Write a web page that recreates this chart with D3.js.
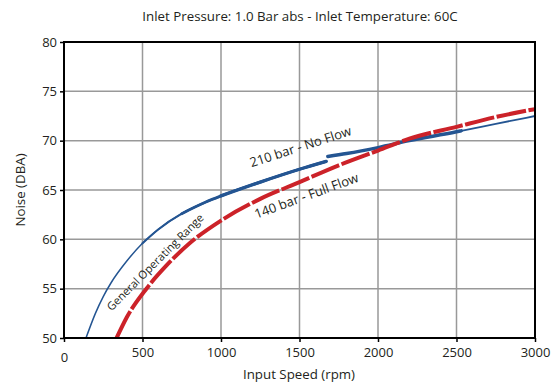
<!DOCTYPE html>
<html><head><meta charset="utf-8">
<script src="https://cdn.jsdelivr.net/npm/d3@7"></script>
<style>body{margin:0;background:#fff}svg text{font-family:"Open Sans","Noto Sans",sans-serif;fill:#231f20}</style>
</head><body><svg id="c" width="553" height="385"></svg>
<script>
const title = "Inlet Pressure: 1.0 Bar abs - Inlet Temperature: 60C";
const xTicks = [0, 500, 1000, 1500, 2000, 2500, 3000];
const yTicks = [50, 55, 60, 65, 70, 75, 80];
// 210 bar - No Flow (blue)
const blueRpm   = [140, 200, 250, 300, 400, 500, 600, 750, 900, 1000, 1250, 1500, 1670, 1680, 1800, 2000, 2200, 2500, 2530, 2750, 3000];
const blueNoise = [50, 52.5, 54.2, 55.6, 57.8, 59.6, 61.0, 62.6, 63.75, 64.4, 65.8, 67.1, 67.9, 68.4, 68.7, 69.3, 70.0, 70.9, 71.0, 71.7, 72.5];
// 140 bar - Full Flow (red)
const redRpm   = [335, 400, 525, 650, 800, 1000, 1250, 1500, 1750, 2000, 2200, 2500, 2750, 3000];
const redNoise = [50, 52.1, 55.0, 57.3, 59.6, 61.9, 64.1, 65.8, 67.5, 69.0, 70.2, 71.4, 72.4, 73.2];

const svg = d3.select("#c");
const x = d3.scaleLinear().domain([0, 3000]).range([64, 535]);
const y = d3.scaleLinear().domain([50, 80]).range([338, 42]);

svg.append("text").attr("x", 300).attr("y", 21).attr("text-anchor", "middle")
  .attr("font-size", 13.3).text(title);

// grid
svg.append("g").selectAll("line").data(xTicks.slice(1, -1)).join("line")
  .attr("x1", d => x(d)).attr("x2", d => x(d)).attr("y1", y(80)).attr("y2", y(50))
  .attr("stroke", "#999").attr("stroke-width", 1.5);
svg.append("g").selectAll("line").data(yTicks.slice(1, -1)).join("line")
  .attr("y1", d => y(d)).attr("y2", d => y(d)).attr("x1", x(0)).attr("x2", x(3000))
  .attr("stroke", "#999").attr("stroke-width", 1.5);

const line = d3.line().x(d => x(d[0])).y(d => y(d[1])).curve(d3.curveMonotoneX);
const blue = blueRpm.map((r, i) => [r, blueNoise[i]]);
const red = redRpm.map((r, i) => [r, redNoise[i]]);

svg.append("clipPath").attr("id", "pc").append("rect")
  .attr("x", x(0)).attr("y", y(80)).attr("width", x(3000) - x(0)).attr("height", y(50) - y(80));
const g = svg.append("g").attr("clip-path", "url(#pc)");

const bc = "#245592";
const b1 = blue.filter(d => d[0] <= 1670);
const b2 = blue.filter(d => d[0] >= 1680);
g.append("path").attr("d", line(b1)).attr("fill", "none").attr("stroke", bc).attr("stroke-width", 1.5);
g.append("path").attr("d", line(b2)).attr("fill", "none").attr("stroke", bc).attr("stroke-width", 1.8);
g.append("path").attr("d", line(b1.filter(d => d[0] >= 500))).attr("fill", "none").attr("stroke", bc).attr("stroke-width", 2.1).attr("stroke-linecap", "round");
g.append("path").attr("d", line(b1.filter(d => d[0] >= 750))).attr("fill", "none").attr("stroke", bc).attr("stroke-width", 2.8).attr("stroke-linecap", "round");
g.append("path").attr("d", line(b1.filter(d => d[0] >= 1000))).attr("fill", "none").attr("stroke", bc).attr("stroke-width", 3.3).attr("stroke-linecap", "round");
g.append("path").attr("d", line(b2.filter(d => d[0] <= 2530))).attr("fill", "none").attr("stroke", bc).attr("stroke-width", 3.4).attr("stroke-linecap", "round");

g.append("path").attr("d", line(red)).attr("fill", "none").attr("stroke", "#cc2229")
  .attr("stroke-width", 4).attr("stroke-dasharray", "30,2.5");

// frame
svg.append("rect").attr("x", x(0)).attr("y", y(80)).attr("width", x(3000) - x(0)).attr("height", y(50) - y(80))
  .attr("fill", "none").attr("stroke", "#000").attr("stroke-width", 2);

// axes
const xa = svg.append("g").attr("transform", `translate(0,${y(50)})`)
  .call(d3.axisBottom(x).tickValues(xTicks).tickFormat(d3.format("d")).tickSize(4).tickSizeOuter(0));
xa.select(".domain").remove();
xa.selectAll("line").attr("stroke", "#000").attr("stroke-width", 1.5);
xa.selectAll("text").attr("font-size", 13).attr("dy", "0.9em").attr("fill", "#231f20")
  .attr("font-family", "Open Sans");
xa.selectAll(".tick").filter(d => d === 0).select("text").attr("dy", "1.3em");
const ya = svg.append("g").attr("transform", `translate(${x(0)},0)`)
  .call(d3.axisLeft(y).tickValues(yTicks).tickSize(4).tickSizeOuter(0));
ya.select(".domain").remove();
ya.selectAll("line").attr("stroke", "#000").attr("stroke-width", 1.5);
ya.selectAll("text").attr("font-size", 13).attr("fill", "#231f20").attr("font-family", "Open Sans");

svg.append("text").attr("x", 299).attr("y", 379).attr("text-anchor", "middle").attr("font-size", 13.3).text("Input Speed (rpm)");
svg.append("text").attr("transform", "translate(25,190) rotate(-90)").attr("text-anchor", "middle").attr("font-size", 13.3).text("Noise (DBA)");

svg.append("text").attr("transform", "translate(302,151) rotate(-18)").attr("text-anchor", "middle").attr("font-size", 13).text("210 bar - No Flow");
svg.append("text").attr("transform", "translate(308,200) rotate(-20)").attr("text-anchor", "middle").attr("font-size", 13).text("140 bar - Full Flow");
svg.append("text").attr("transform", "translate(158,265) rotate(-45)").attr("text-anchor", "middle").attr("font-size", 11.2).text("General Operating Range");
</script></body></html>
